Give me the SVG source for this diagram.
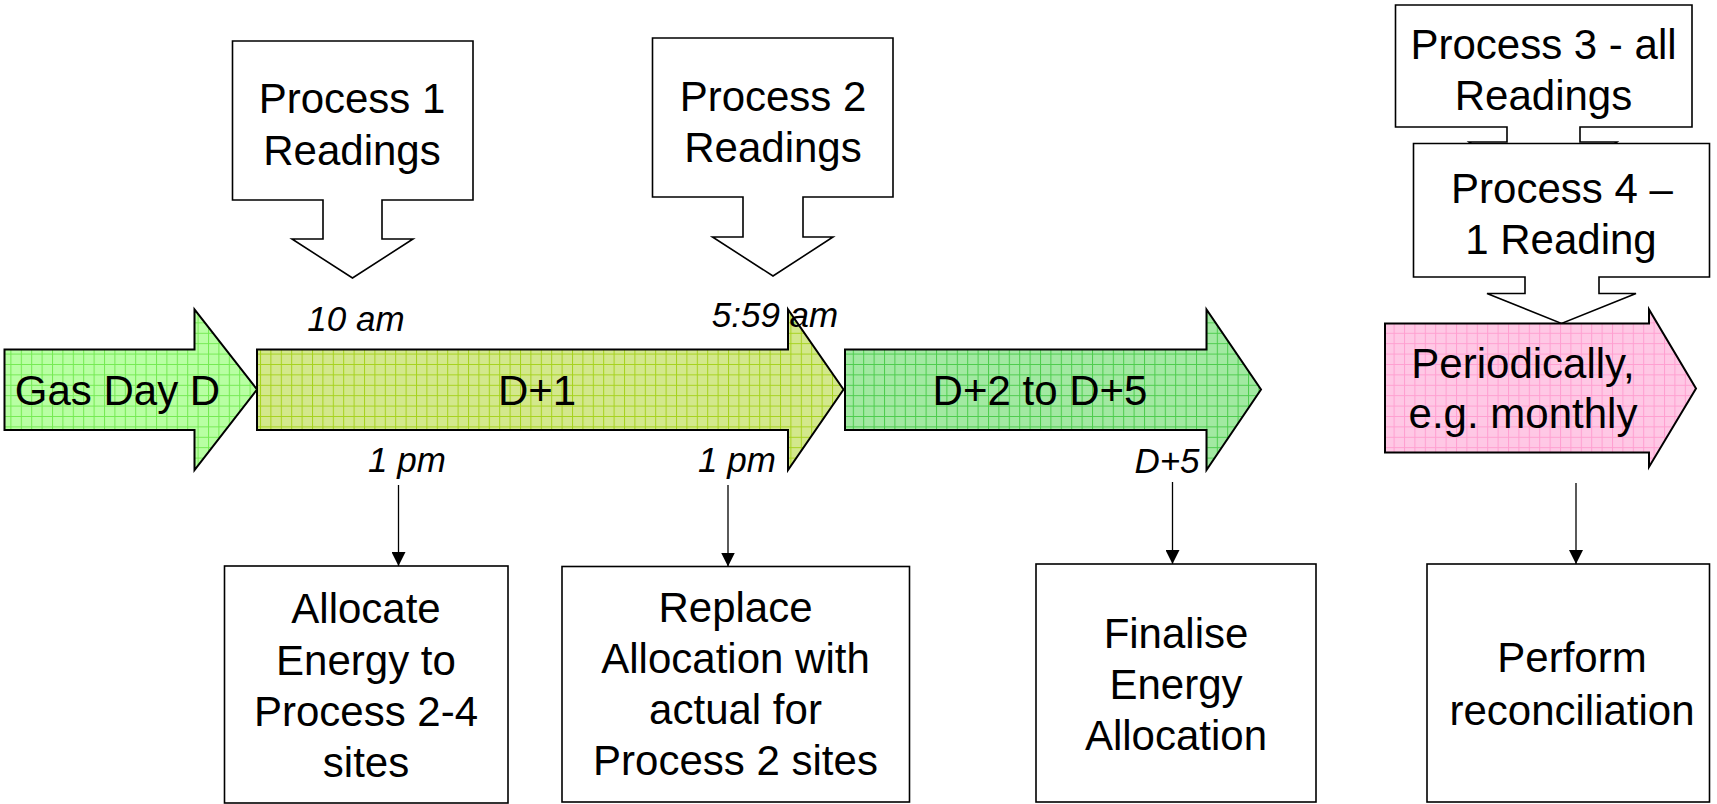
<svg xmlns="http://www.w3.org/2000/svg" width="1717" height="804" viewBox="0 0 1717 804">
<style>
.t{font-family:"Liberation Sans",Arial,sans-serif;font-size:42px;fill:#000;text-anchor:middle}
.i{font-family:"Liberation Sans",Arial,sans-serif;font-size:35px;font-style:italic;fill:#000;text-anchor:middle}
.box{fill:#fff;stroke:#000;stroke-width:1.6}
.arr{stroke:#000;stroke-width:2;stroke-linejoin:miter}
.con{stroke:#000;stroke-width:1.3;fill:none}
</style>
<defs>
<pattern id="gA" width="10.4" height="10.4" patternUnits="userSpaceOnUse"><rect width="10.4" height="10.4" fill="#b8ffa3"/><path d="M0 0.5H10.4M0.5 0V10.4" stroke="#74ea52" stroke-width="1"/></pattern>
<pattern id="gB" width="10.4" height="10.4" patternUnits="userSpaceOnUse"><rect width="10.4" height="10.4" fill="#d3e88c"/><path d="M0 0.5H10.4M0.5 0V10.4" stroke="#a6d21e" stroke-width="1"/></pattern>
<pattern id="gC" width="10.4" height="10.4" patternUnits="userSpaceOnUse"><rect width="10.4" height="10.4" fill="#a2e9a2"/><path d="M0 0.5H10.4M0.5 0V10.4" stroke="#4dcc4d" stroke-width="1"/></pattern>
<pattern id="gD" width="10.4" height="10.4" patternUnits="userSpaceOnUse"><rect width="10.4" height="10.4" fill="#ffc8e5"/><path d="M0 0.5H10.4M0.5 0V10.4" stroke="#ff9fd0" stroke-width="1"/></pattern>
<marker id="ah" markerWidth="14" markerHeight="14" viewBox="0 0 14 14" refX="14" refY="7" orient="auto" markerUnits="userSpaceOnUse"><path d="M0 0L14 7L0 14Z" fill="#000"/></marker>
</defs>

<g id="callout-p1">
<path class="box" d="M232.5 41H473V200H382V239H413L352.5 278L292 239H323V200H232.5Z"/>
<text class="t" x="352" y="113">Process 1</text>
<text class="t" x="352" y="165">Readings</text>
</g>

<g id="callout-p2">
<path class="box" d="M652.5 38H893V197H803V237H833L773 276L712.5 237H743V197H652.5Z"/>
<text class="t" x="773" y="111">Process 2</text>
<text class="t" x="773" y="162">Readings</text>
</g>

<g id="callout-p3">
<path class="box" d="M1395.5 5H1692V127H1580V142H1617L1543 200L1469 142H1507V127H1395.5Z"/>
<text class="t" x="1543.5" y="59">Process 3 - all</text>
<text class="t" x="1543.5" y="110">Readings</text>
</g>

<g id="callout-p4">
<path class="box" d="M1413.5 143.5H1709.5V277H1599V293.5H1636L1561.5 323.5L1487 293.5H1525V277H1413.5Z"/>
<text class="t" x="1562" y="203">Process 4 –</text>
<text class="t" x="1561" y="254">1 Reading</text>
</g>

<g id="arrow-gasday">
<path class="arr" fill="url(#gA)" d="M4.5 349.5H194.5V309.5L257 389.5L194.5 470V430H4.5Z"/>
<text class="t" x="117.5" y="405">Gas Day D</text>
</g>

<g id="arrow-d1">
<path class="arr" fill="url(#gB)" d="M257 349.5H788V309.5L843.5 389.5L788 470V430H257Z"/>
<text class="t" x="537" y="405">D+1</text>
</g>

<g id="arrow-d2">
<path class="arr" fill="url(#gC)" d="M845 349.5H1206.5V309.5L1261 389.5L1206.5 470V430H845Z"/>
<text class="t" x="1040" y="405">D+2 to D+5</text>
</g>

<g id="arrow-periodic">
<path class="arr" fill="url(#gD)" d="M1385 323.5H1649V309.5L1696 388.5L1649 467V452.5H1385Z"/>
<text class="t" x="1523" y="378">Periodically,</text>
<text class="t" x="1523" y="428">e.g. monthly</text>
</g>

<g id="labels">
<text class="i" x="356" y="331">10 am</text>
<text class="i" x="775" y="327">5:59 am</text>
<text class="i" x="407" y="472">1 pm</text>
<text class="i" x="737" y="472">1 pm</text>
<text class="i" x="1167" y="473">D+5</text>
</g>

<g id="connectors">
<line class="con" x1="398.5" y1="485" x2="398.5" y2="566" marker-end="url(#ah)"/>
<line class="con" x1="728" y1="485" x2="728" y2="566.5" marker-end="url(#ah)"/>
<line class="con" x1="1172.5" y1="482" x2="1172.5" y2="564" marker-end="url(#ah)"/>
<line class="con" x1="1576" y1="483" x2="1576" y2="564" marker-end="url(#ah)"/>
</g>

<g id="box-allocate">
<rect class="box" x="224.5" y="566" width="283.5" height="237"/>
<text class="t" x="366" y="623">Allocate</text>
<text class="t" x="366" y="675">Energy to</text>
<text class="t" x="366" y="726">Process 2-4</text>
<text class="t" x="366" y="777">sites</text>
</g>

<g id="box-replace">
<rect class="box" x="562" y="566.5" width="347.5" height="235.5"/>
<text class="t" x="735.5" y="622">Replace</text>
<text class="t" x="735.5" y="673">Allocation with</text>
<text class="t" x="735.5" y="724">actual for</text>
<text class="t" x="735.5" y="775">Process 2 sites</text>
</g>

<g id="box-finalise">
<rect class="box" x="1036" y="564" width="280" height="238"/>
<text class="t" x="1176" y="648">Finalise</text>
<text class="t" x="1176" y="699">Energy</text>
<text class="t" x="1176" y="750">Allocation</text>
</g>

<g id="box-reconcile">
<rect class="box" x="1427" y="564" width="282.5" height="238"/>
<text class="t" x="1572" y="672">Perform</text>
<text class="t" x="1572" y="725">reconciliation</text>
</g>
</svg>
